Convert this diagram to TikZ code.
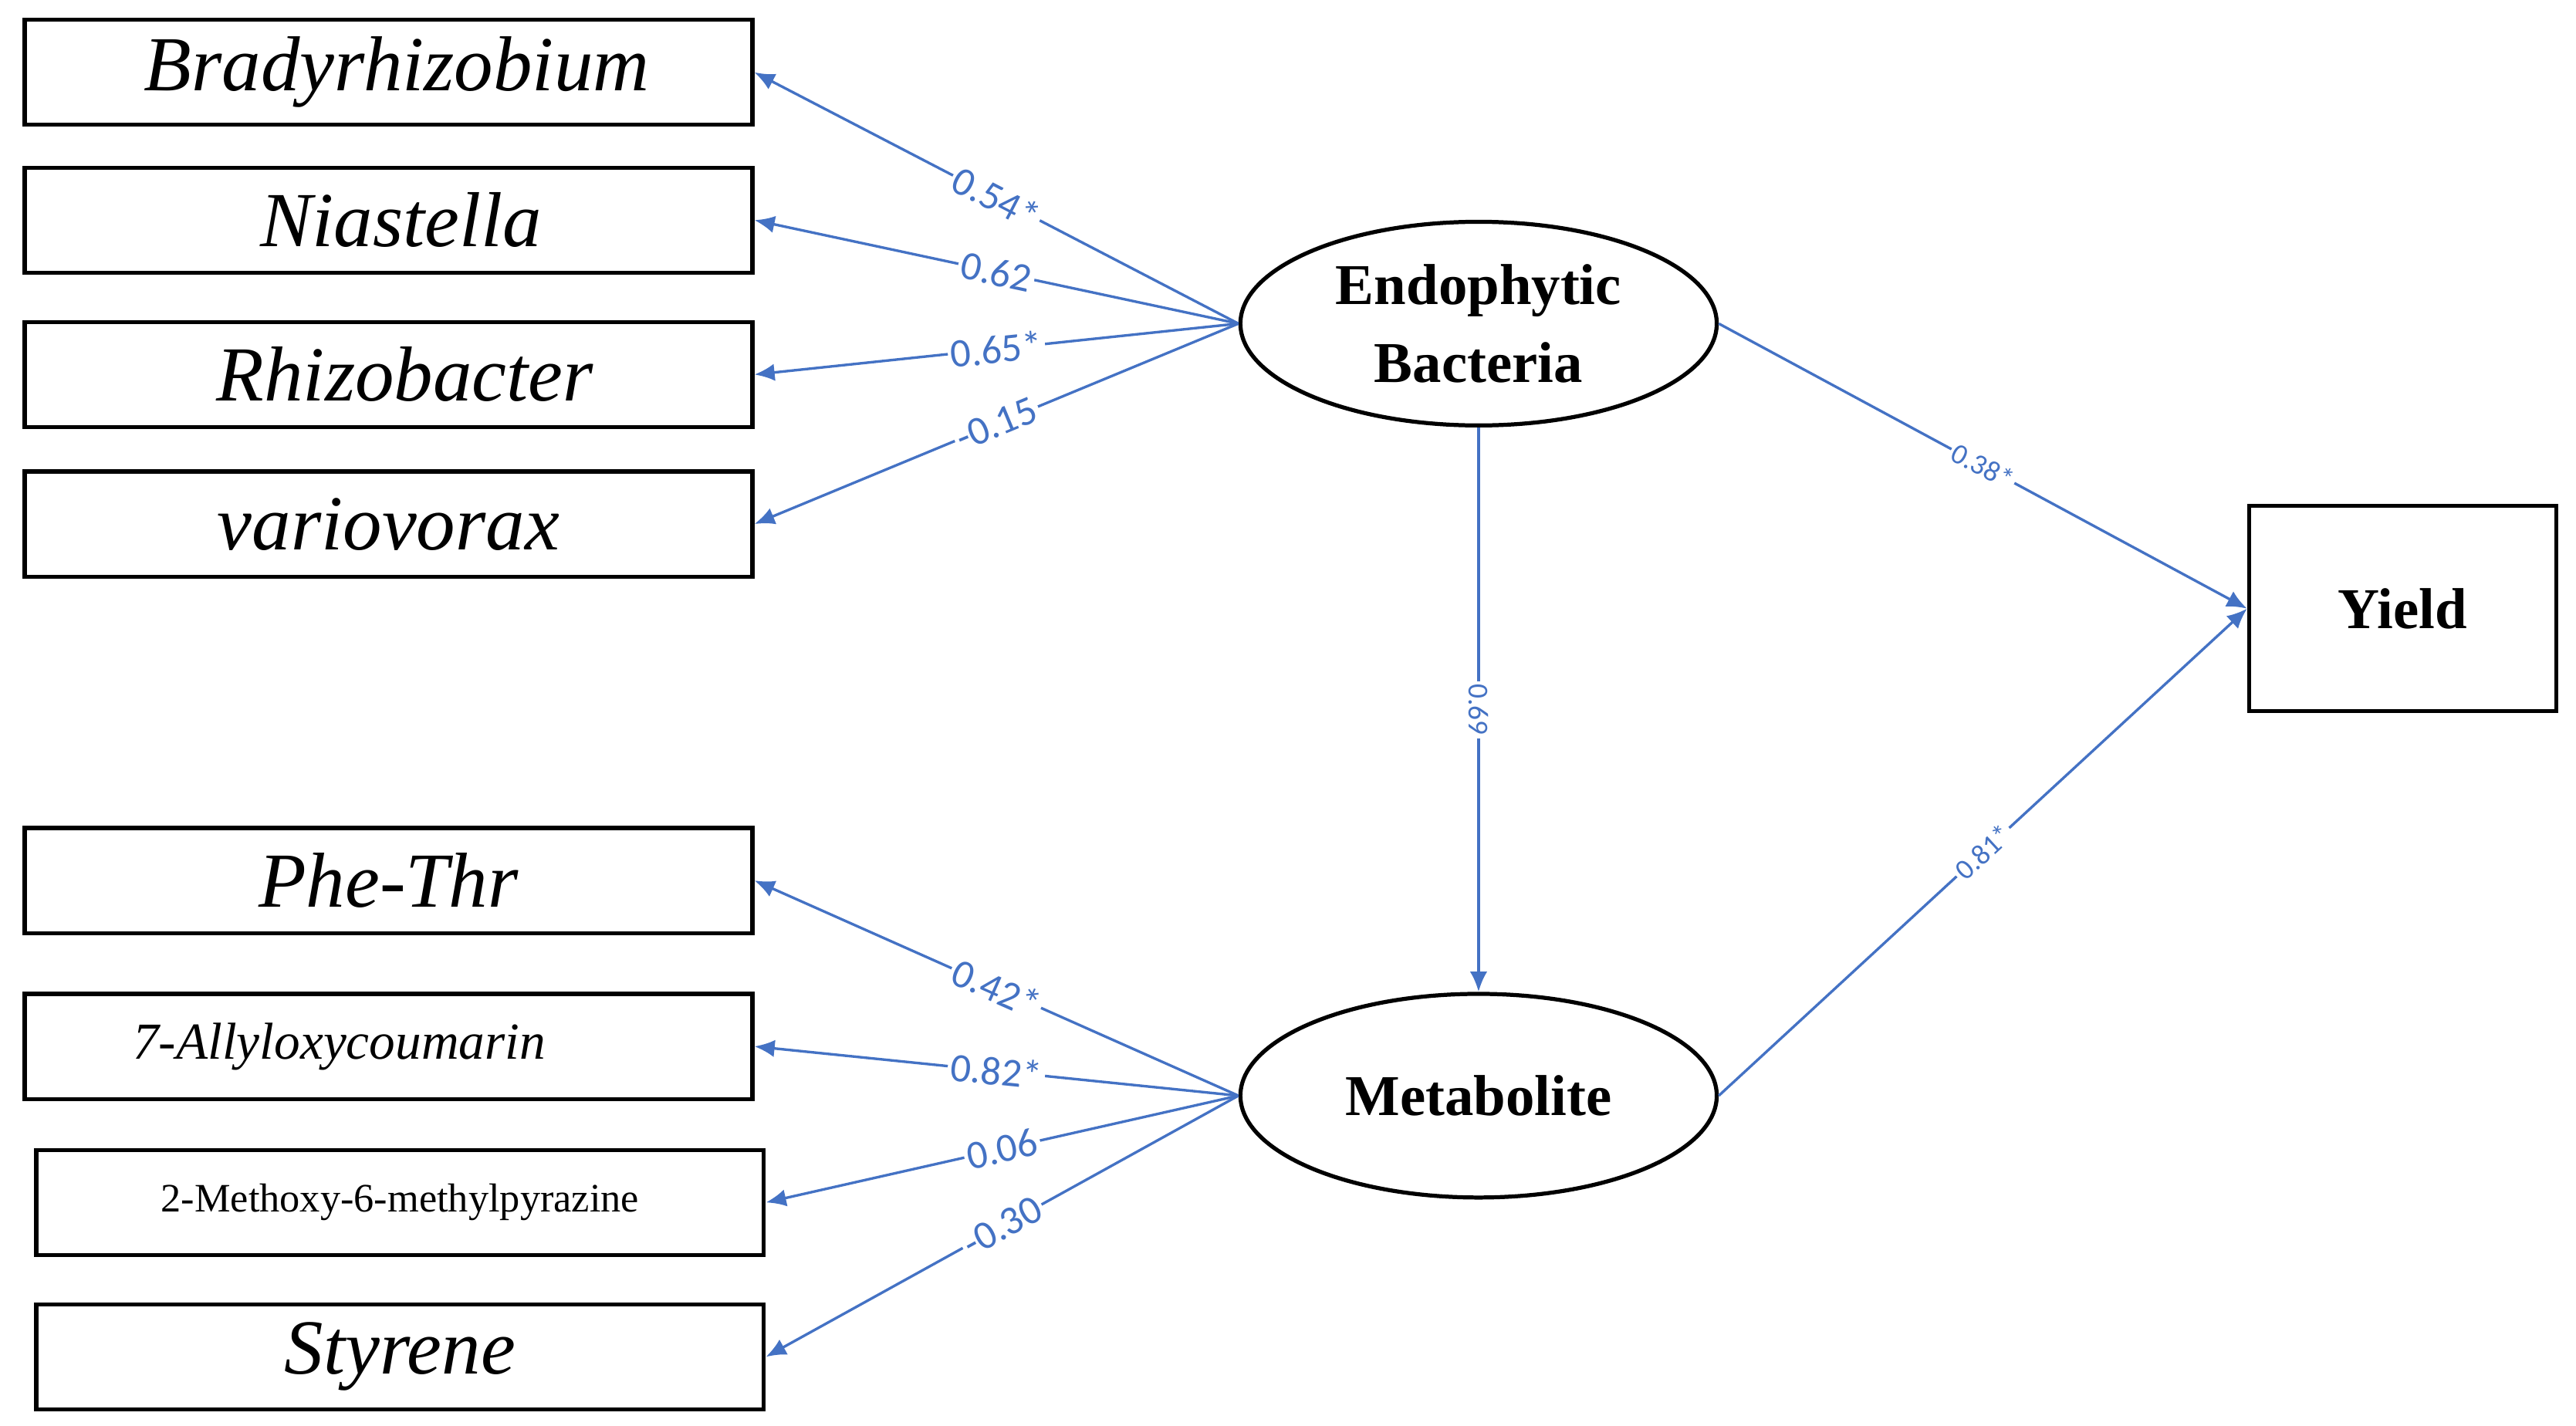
\documentclass[tikz,border=0pt]{standalone}
\usetikzlibrary{shapes.geometric,arrows.meta}
\usepackage{fontspec}
\setmainfont{Liberation Serif}
\newfontfamily\lab{Carlito}
\begin{document}
\begin{tikzpicture}[x=0.02cm,y=-0.02cm,
 box/.style={draw,line width=1.4pt,minimum width=8.86cm,minimum height=1.28cm,inner sep=0pt},
 ell/.style={draw,ellipse,line width=1.4pt,minimum width=5.8cm,minimum height=2.48cm,align=center,font=\fontsize{20}{27}\selectfont\bfseries},
 con/.style={draw=blue1,line width=0.9pt,-{Latex[length=7pt,width=6pt]}},
 lb/.style={fill=white,inner sep=1pt,sloped,text=blue1,font=\lab\fontsize{14}{14}\selectfont},
 lbs/.style={fill=white,inner sep=1pt,text=blue1,font=\lab\fontsize{10}{10}\selectfont},
 it/.style={font=\fontsize{27}{30}\selectfont\itshape}]
\definecolor{blue1}{HTML}{4472C4}
\useasboundingbox (0,0) rectangle (1568,868);
\node[box,it] (b1) at (236.5,44) {\hspace*{0.2cm}Bradyrhizobium};
\node[box,it] (b2) at (236.5,134) {\hspace*{0.3cm}Niastella};
\node[box,it] (b3) at (236.5,228) {\hspace*{0.4cm}Rhizobacter};
\node[box,it] (b4) at (236.5,319) {variovorax};
\node[box,it] (m1) at (236.5,536) {Phe-Thr};
\node[box,font=\fontsize{18}{20}\selectfont\itshape] (m2) at (236.5,637) {\hspace*{-1.2cm}7-Allyloxycoumarin};
\node[box,font=\fontsize{14}{16}\selectfont] (m3) at (243.5,732) {2-Methoxy-6-methylpyrazine};
\node[box,it] (m4) at (243.5,826) {Styrene};
\node[ell] (E) at (900,197) {Endophytic\\Bacteria};
\node[ell] (M) at (900,667) {Metabolite};
\node[draw,line width=1.4pt,minimum width=3.74cm,minimum height=2.5cm,font=\fontsize{20}{22}\selectfont\bfseries] (Y) at (1462.5,370.5) {Yield};
\draw[con] (E.west) -- node[lb,pos=0.5]{0.54*} (b1.east);
\draw[con] (E.west) -- node[lb,pos=0.5]{0.62} (b2.east);
\draw[con] (E.west) -- node[lb,pos=0.5]{0.65*} (b3.east);
\draw[con] (E.west) -- node[lb,pos=0.5]{-0.15} (b4.east);
\draw[con] (M.west) -- node[lb,pos=0.5]{0.42*} (m1.east);
\draw[con] (M.west) -- node[lb,pos=0.5]{0.82*} (m2.east);
\draw[con] (M.west) -- node[lb,pos=0.5]{0.06} (m3.east);
\draw[con] (M.west) -- node[lb,pos=0.5]{-0.30} (m4.east);
\draw[con] (E.south) -- node[lbs,rotate=-90,pos=0.5]{0.69} (M.north);
\draw[con] (E.east) -- node[lbs,sloped,pos=0.5]{0.38*} (Y.west);
\draw[con] (M.east) -- node[lbs,sloped,pos=0.5]{0.81*} (Y.west);
\end{tikzpicture}
\end{document}
